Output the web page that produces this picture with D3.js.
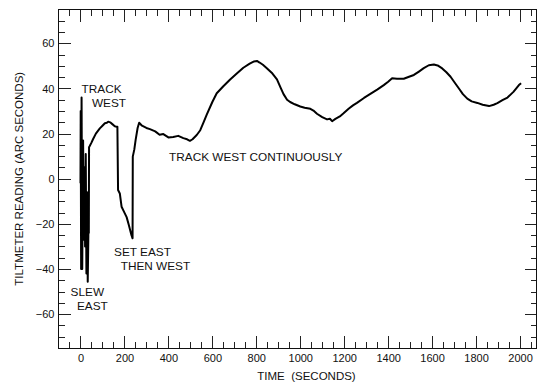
<!DOCTYPE html>
<html>
<head>
<meta charset="utf-8">
<script src="https://cdn.jsdelivr.net/npm/d3@7"></script>
<style>
  body { margin: 0; background: #fff; }
  svg text { font-family: "Liberation Sans", Arial, sans-serif; fill: #111; }
</style>
</head>
<body>
<div id="chart"></div>
<script>
// tiltmeter trace
let times = [0, 1, 3, 5, 8, 12, 15, 18, 21, 24, 27, 30, 33, 36, 38, 39, 42, 50, 57, 70,
  88, 100, 111, 120, 126, 135, 145, 156, 166, 168, 171, 179, 187, 200, 210, 220, 232, 237, 238, 245,
  251, 260, 267, 280, 300, 316, 340, 360, 377, 400, 422, 445, 468, 485, 498, 510, 529, 545, 560, 575,
  600, 620, 650, 681, 710, 741, 770, 790, 803, 815, 830, 848, 870, 894, 910, 924, 940, 954, 975, 1000,
  1020, 1046, 1060, 1076, 1100, 1122, 1135, 1145, 1160, 1180, 1197, 1220, 1240, 1258, 1290, 1319, 1350, 1380, 1400, 1418,
  1440, 1471, 1495, 1517, 1540, 1562, 1585, 1608, 1625, 1646, 1665, 1684, 1700, 1722, 1740, 1760, 1780, 1806, 1830, 1859,
  1880, 1897, 1920, 1943, 1970, 1995, 2005];
let readings = [-2, 30, -40, 36, -40, 17, -27, 5, -30, 11, -42, -6, -45.6, -24, -24, 14, 14.5, 16, 17.5, 20,
  22.3, 23.5, 24.6, 24.8, 25.3, 25, 24.2, 23.3, 23, 23, -5, -6.5, -12.4, -15, -17, -20.5, -25, -26.4, 9.8, 13,
  17.2, 22.5, 24.8, 23.5, 22.5, 22, 21, 19.5, 19.8, 18.3, 18.5, 19, 18, 17.5, 16.8, 17.5, 19.4, 21.5, 25, 28.5,
  34, 37.9, 41, 44, 46.5, 49.2, 51, 52, 52.2, 51.5, 50.5, 49, 47, 44, 40.5, 37.5, 35, 34, 33, 32,
  31.5, 31, 30.2, 28.8, 27.3, 26.3, 26.6, 25.5, 26.5, 27.6, 29, 31, 32.5, 33.6, 35.8, 37.6, 39.5, 41.5, 43, 44.5,
  44.3, 44.3, 45.2, 46, 47.5, 49, 50.3, 50.6, 50.2, 48.9, 47.2, 45.2, 43, 40, 37.5, 35.5, 34.3, 33.6, 32.8, 32.2,
  32.8, 33.5, 34.8, 36, 38.5, 41.5, 42.3];

let xTicks = [0, 200, 400, 600, 800, 1000, 1200, 1400, 1600, 1800, 2000];
let yTicks = [-60, -40, -20, 0, 20, 40, 60];

// annotations, placed at (time, reading)
let noteText = ["TRACK", "WEST", "SLEW", "EAST", "SET EAST", "THEN WEST", "TRACK WEST CONTINUOUSLY"];
let noteTime = [5, 52, -45, -16, 153, 183, 403];
let noteReading = [38, 31.8, -52, -58.2, -34.2, -40.4, 7.9];

let w = 538, h = 383;
let padL = 58.5, padR = 536.5, padT = 9.5, padB = 348;

let svg = d3.select("#chart").append("svg")
  .attr("width", w)
  .attr("height", h);

let xScale = d3.scaleLinear().domain([-100, 2075]).range([padL, padR]);
let yScale = d3.scaleLinear().domain([-75, 75]).range([padB, padT]);

let xMinor = d3.range(-50, 2075, 50).filter(function(d) { return d % 200 !== 0; });
let yMinor = d3.range(-70, 75, 5).filter(function(d) { return d % 20 !== 0; });

function drawAxis(axisFn, scale, major, minor, tx, ty, labels) {
  let g = svg.append("g").attr("transform", "translate(" + tx + "," + ty + ")");
  g.call(axisFn(scale).tickValues(major).tickSizeInner(-12).tickSizeOuter(0).tickPadding(labels ? 6 : 0)
    .tickFormat(labels ? d3.format("d") : ""));
  g.append("g").call(axisFn(scale).tickValues(minor).tickSizeInner(-6).tickSizeOuter(0).tickFormat(""));
  g.selectAll(".domain").remove();
  g.selectAll("line").attr("stroke", "#222").attr("shape-rendering", "crispEdges");
  g.selectAll("text").style("font-size", "11px").attr("fill", "#111");
  return g;
}

drawAxis(d3.axisBottom, xScale, xTicks, xMinor, 0, padB, true);
drawAxis(d3.axisTop, xScale, xTicks, xMinor, 0, padT, false);
let yl = drawAxis(d3.axisLeft, yScale, yTicks, yMinor, padL, 0, true);
yl.selectAll("text").attr("x", -4);
drawAxis(d3.axisRight, yScale, yTicks, yMinor, padR, 0, false);

svg.append("rect")
  .attr("x", padL).attr("y", padT)
  .attr("width", padR - padL).attr("height", padB - padT)
  .attr("fill", "none").attr("stroke", "#111").attr("stroke-width", 1)
  .attr("shape-rendering", "crispEdges");

let data = times.map(function(t, i) { return { t: t, v: readings[i] }; });
let line = d3.line()
  .x(function(d) { return xScale(d.t); })
  .y(function(d) { return yScale(d.v); });

svg.append("path")
  .datum(data)
  .attr("d", line)
  .attr("fill", "none")
  .attr("stroke", "#000")
  .attr("stroke-width", 2)
  .attr("stroke-linejoin", "round");

svg.selectAll(".note")
  .data(noteText)
  .enter()
  .append("text")
  .attr("class", "note")
  .attr("x", function(d, i) { return xScale(noteTime[i]); })
  .attr("y", function(d, i) { return yScale(noteReading[i]); })
  .style("font-size", "11.8px")
  .text(function(d) { return d; });

svg.append("text")
  .attr("x", (padL + padR) / 2 + 9)
  .attr("y", 380)
  .style("text-anchor", "middle")
  .style("font-size", "11.5px")
  .style("white-space", "pre")
  .text("TIME  (SECONDS)");

svg.append("text")
  .attr("transform", "translate(23," + ((padT + padB) / 2) + ") rotate(-90)")
  .style("text-anchor", "middle")
  .style("font-size", "11.5px")
  .text("TILTMETER READING (ARC SECONDS)");
</script>
</body>
</html>
